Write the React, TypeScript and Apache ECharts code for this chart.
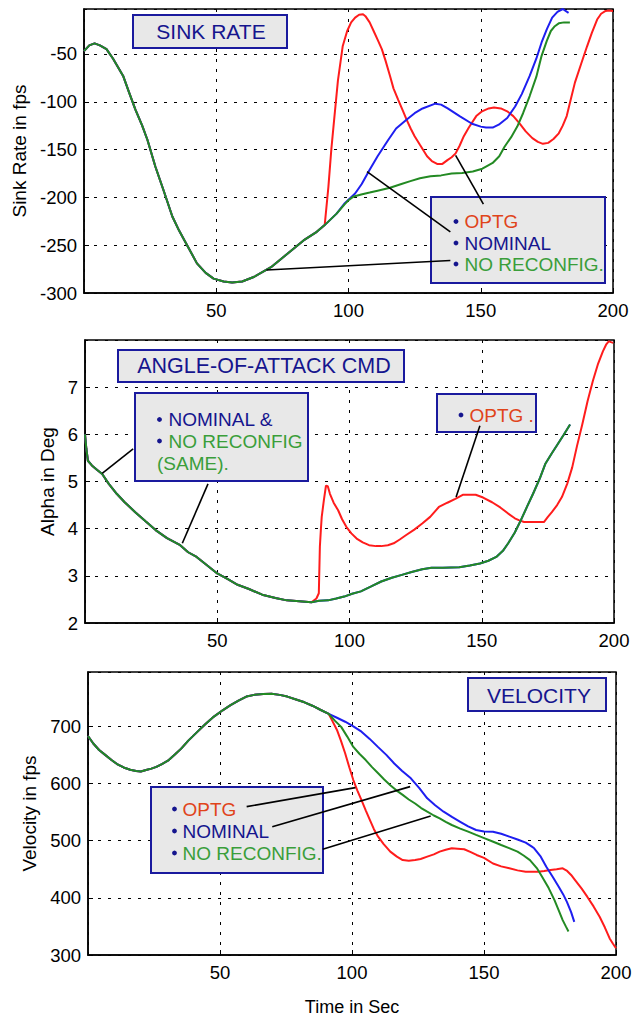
import React, { useEffect, useRef } from "react";
import * as echarts from "echarts";

const FONT = "'Liberation Sans', Arial, Helvetica, sans-serif";

// ---------- axis ticks ----------
const X_RANGE = [0, 200];
const X_STEP = 50;
const SINK_RANGE = [-300, -3];
const SINK_STEP = 50;
const ALPHA_RANGE = [2, 8];
const ALPHA_STEP = 1;
const VEL_RANGE = [300, 795];
const VEL_STEP = 100;

// ---------- SINK RATE (fps) ----------
const sinkBase = [
  [0, -47], [2, -41], [4, -39], [6, -41], [8.5, -45], [11, -55], [14.8, -73], [17, -90],
  [19.4, -108], [22, -125], [24, -140], [27, -168], [30, -192], [33.4, -220], [36, -235],
  [38, -245], [42.7, -269], [46, -279], [49, -285], [52.8, -288], [56, -289], [59.8, -288],
  [64.4, -283], [70.7, -273], [76.9, -259], [83, -245], [88, -236], [91, -229],
];
const sinkNominalTail = [
  [95.5, -217], [98.6, -206], [102.5, -196], [105, -186], [108, -171], [111, -157],
  [115, -140], [118, -128], [121.8, -119], [125, -112], [128, -107], [132.8, -102],
  [135, -103], [137.5, -107], [142, -115], [146.7, -123], [150, -126], [152, -127],
  [154.5, -127], [156.8, -124], [160, -117], [163, -105], [165.5, -92], [168.5, -73],
  [171, -55], [173, -38], [175, -24], [177, -12], [179, -6], [181, -3], [183.2, -7],
];
const sinkNoReconfigTail = [
  [95.5, -217], [98.6, -207], [100, -203], [102, -199], [104.8, -197], [108, -195],
  [111, -193], [115.7, -190], [120, -186], [123.4, -183], [127, -180], [131, -178],
  [135, -177], [139, -175], [143, -174.5], [147, -173], [150.6, -170], [152.5, -167],
  [154.5, -164], [157, -157], [159, -147], [161.5, -137], [163.8, -126], [166, -112],
  [168.5, -94], [171, -74], [173, -52], [175, -36], [176.5, -26], [178, -21],
  [179.5, -18], [181.5, -17], [183.7, -17],
];
const sinkOptgTail = [
  [92.4, -189], [93.5, -150], [94.7, -115], [96, -78], [97.8, -42], [99.5, -26],
  [101, -17], [102.5, -12], [104, -9], [105.5, -8.5], [106.4, -10.5], [108, -17],
  [109.5, -26], [111, -35], [112.6, -45], [114, -57], [115.7, -73], [117, -86],
  [118.8, -98], [120.5, -109], [122, -119], [123.5, -128], [125, -136], [127, -145],
  [129.7, -157], [131.5, -162], [133.5, -165], [135.5, -165], [137.4, -161],
  [139, -158], [140.5, -154], [142, -146], [143.6, -136], [145.5, -127], [148.3, -115],
  [150.5, -110], [153, -107], [155, -106], [157.6, -107], [160, -110], [162.3, -115],
  [164.5, -122], [167, -131], [169.5, -138], [171.6, -142], [173.5, -144],
  [175.5, -143], [177.5, -139], [179.5, -133], [181, -125], [182.5, -115], [184, -98],
  [185.6, -80], [188, -60], [190.2, -42], [192, -28], [194, -14], [195.5, -8],
  [197.2, -5], [198.5, -4.5], [200, -5],
];
const sinkLeaderOptg = [[151, -207], [140.5, -156]];
const sinkLeaderNominal = [[138.5, -236], [107, -173]];
const sinkLeaderNoReconfig = [[138.5, -266], [69, -276]];

// ---------- ANGLE OF ATTACK (deg) ----------
const alphaBase = [
  [0, 6.0], [0.5, 5.7], [1.1, 5.44], [2.6, 5.34], [4.5, 5.25], [6.5, 5.16], [9, 4.95],
  [12, 4.74], [15, 4.56], [19, 4.35], [23, 4.15], [26.7, 3.97], [31, 3.8], [36, 3.65],
  [39, 3.5], [42.2, 3.4], [46, 3.23], [50, 3.05], [54, 2.93], [57.7, 2.81], [62, 2.72],
  [67, 2.6], [72, 2.53], [76.3, 2.48], [81, 2.46], [85.6, 2.44],
];
const alphaSameTail = [
  [88.5, 2.47], [91.9, 2.48], [95, 2.52], [98, 2.56], [101, 2.62], [104.3, 2.67],
  [108, 2.77], [112, 2.88], [116, 2.96], [119.8, 3.02], [123.5, 3.08], [127.5, 3.14],
  [131, 3.17], [135.3, 3.17], [141.5, 3.18], [145.5, 3.22], [149.3, 3.26],
  [152.5, 3.32], [155.5, 3.4], [158, 3.53], [160, 3.69], [162.5, 3.92], [164.8, 4.18],
  [167, 4.45], [169.4, 4.74], [172, 5.07], [174, 5.37], [176.5, 5.6], [178.7, 5.79],
  [181, 5.99], [183.4, 6.21],
];
const alphaOptgTail = [
  [87.5, 2.52], [88.4, 2.63], [88.8, 3.62], [89.2, 4.0], [89.5, 4.25], [90.3, 4.6],
  [91.1, 4.91], [91.8, 4.9], [92.6, 4.74], [94, 4.55], [95.7, 4.39], [97.2, 4.2],
  [98.8, 4.04], [100.7, 3.9], [102.7, 3.79], [105, 3.71], [107.4, 3.65], [110, 3.63],
  [112, 3.63], [114.5, 3.65], [116.7, 3.69], [119, 3.77], [121.3, 3.86], [124.5, 3.98],
  [127.5, 4.11], [130.5, 4.25], [133.8, 4.46], [137, 4.55], [140, 4.63], [143, 4.72],
  [147.7, 4.72], [150.5, 4.66], [153.9, 4.56], [157, 4.45], [160, 4.32], [162.5, 4.22],
  [164, 4.18], [166, 4.14], [168, 4.14], [170.5, 4.14], [173.5, 4.14], [175, 4.25],
  [176.5, 4.35], [178.5, 4.5], [180.3, 4.67], [182.3, 4.95], [184.2, 5.3], [186, 5.75],
  [188, 6.21], [190, 6.7], [192, 7.13], [194, 7.5], [195.8, 7.76], [197, 7.9],
  [198, 7.97], [199.7, 7.94],
];
const alphaLeaderSame1 = [[18.2, 5.69], [6.5, 5.17]];
const alphaLeaderSame2 = [[46.5, 4.95], [36.8, 3.69]];
const alphaLeaderOptg = [[149.3, 6.18], [140.3, 4.67]];

// ---------- VELOCITY (fps) ----------
const velBase = [
  [0, 683], [2, 670], [4.2, 658.6], [6.5, 650], [8.9, 641], [11, 634], [13.5, 628],
  [16, 624], [18.2, 622], [20, 621], [22, 623.6], [24, 626], [25.9, 629], [28, 634],
  [30.6, 641], [33, 651], [35.3, 661], [38, 675], [41.5, 690.7], [44.5, 704],
  [47.7, 717], [51, 728], [54, 737], [57, 745], [60, 752], [63, 755], [66.4, 756.6],
  [69.5, 757], [72.6, 755], [75.5, 752], [78.8, 747], [82, 742], [85, 736], [88, 729],
  [91.2, 721.6],
];
const velNominalTail = [
  [94.3, 715], [97.4, 708], [100.5, 700], [103.6, 690.7], [106.7, 678], [109.8, 664],
  [113, 650], [116, 635], [119, 622], [122.3, 609], [125.5, 592], [128.5, 574],
  [131.5, 562], [134.7, 550.7], [138, 541], [141, 533], [144, 525], [147, 518.7],
  [150, 516], [153.4, 515.7], [156.5, 512], [159.6, 507], [162.7, 502], [165.8, 496.5],
  [168, 490], [169, 486.6], [171.5, 472], [173.6, 454.5], [176, 437], [178.3, 419.5],
  [180, 406], [181.4, 393], [183, 375], [184.2, 358],
];
const velNoReconfigTail = [
  [93.5, 710], [95.9, 699], [98.2, 682], [100.5, 664], [102.8, 652], [105.2, 641],
  [107.5, 629], [109.9, 617.8], [112.2, 607], [114.5, 597], [116.8, 588], [119.2, 580],
  [121.5, 572], [123.9, 565], [126.2, 557], [128.5, 550.7], [131, 544], [133.2, 539],
  [135.5, 533], [137.8, 527.4], [141, 521], [144, 515.7], [147, 510], [150.3, 504],
  [153.5, 498], [156.5, 492.4], [159.5, 487], [162.7, 480.8], [165, 474], [167.4, 466],
  [170, 452], [172, 437], [174.5, 417], [176.7, 396], [178.3, 378], [179.8, 361],
  [181, 350], [182, 341],
];
const velOptgTail = [
  [92.5, 710], [94.3, 693.6], [95.8, 675], [97.4, 652.8], [99, 628], [100.5, 606],
  [102, 588], [103.6, 571], [105.2, 553], [106.8, 536], [108.3, 520], [109.9, 507],
  [112, 494], [114.5, 480.8], [117, 472], [119.2, 466], [121.5, 465], [123.9, 466],
  [126, 468], [128.5, 472], [131, 476], [133.2, 480.8], [135.5, 484], [137.8, 486.6],
  [140, 486], [142.5, 485], [145, 480], [147.2, 475], [150, 470], [153.4, 460],
  [156.5, 455], [159.6, 451.6], [162.7, 448], [165.8, 445.8], [168, 445.8],
  [170.5, 445.8], [172.8, 447], [175.2, 448.7], [177.5, 450], [179.8, 451.6],
  [181.5, 447], [183, 440], [184.5, 431], [187, 416], [189.1, 402], [191.5, 385],
  [193.8, 367], [195.8, 348], [197.6, 329], [198.8, 320], [200, 311.7],
];
const velLeaderOptg = [[60.1, 559.5], [101.3, 592.7]];
const velLeaderNominal = [[69.8, 524.5], [122, 594.5]];
const velLeaderNoReconfig = [[88.9, 484.8], [129.8, 543]];

// ---------- colours ----------
const RED = "#ff1c1c";
const BLUE = "#1e1ef0";
const GREEN = "#238a23";
const NAVY = "#15158e";
const TXT_RED = "#e0441a";
const TXT_GREEN = "#3a9e3a";
const BOX_FILL = "#e8e8e8";
const BOX_EDGE = "#1a1a9e";

const TICK_FS = 18.5;
const NAME_FS = 19;
const LEG_FS = 19;

function lineSeries(idx: number, data: number[][], color: string, z = 5) {
  return {
    type: "line",
    xAxisIndex: idx,
    yAxisIndex: idx,
    data,
    symbol: "none",
    smooth: false,
    z,
    silent: true,
    lineStyle: { color, width: 2 },
  };
}
function leader(idx: number, data: number[][]) {
  return {
    type: "line",
    xAxisIndex: idx,
    yAxisIndex: idx,
    data,
    symbol: "none",
    z: 20,
    silent: true,
    lineStyle: { color: "#000", width: 1.6 },
  };
}

function box(x: number, y: number, w: number, h: number) {
  return {
    type: "rect",
    z: 10,
    shape: { x, y, width: w, height: h },
    style: { fill: BOX_FILL, stroke: BOX_EDGE, lineWidth: 2 },
  };
}
function txt(x: number, y: number, text: string, fill: string, size: number, align = "left") {
  return {
    type: "text",
    z: 12,
    x,
    y,
    style: {
      text,
      fill,
      fontSize: size,
      fontFamily: FONT,
      align,
      verticalAlign: "middle",
    },
  };
}
function dot(x: number, y: number) {
  return { type: "circle", z: 12, shape: { cx: x, cy: y, r: 2.4 }, style: { fill: NAVY } };
}

const GRIDS = [
  { left: 84, top: 9, width: 529, height: 284 },
  { left: 85, top: 340, width: 529, height: 283 },
  { left: 88, top: 672, width: 528, height: 283 },
];

function xAxis(idx: number, name?: string) {
  return {
    type: "value",
    gridIndex: idx,
    min: X_RANGE[0],
    max: X_RANGE[1],
    interval: X_STEP,
    name: name || "",
    nameLocation: "middle",
    nameGap: 43,
    nameTextStyle: { color: "#000", fontSize: 18, fontFamily: FONT },
    axisLine: { show: true, lineStyle: { color: "#000", width: 1.5 } },
    axisTick: { show: true, inside: true, length: 5, lineStyle: { color: "#000" } },
    axisLabel: { showMinLabel: false, color: "#000", fontSize: TICK_FS, fontFamily: FONT, margin: 8 },
    splitLine: { show: true, lineStyle: { color: "#000", width: 1, type: [3, 7] } },
  };
}
function yAxis(idx: number, range: number[], step: number, name: string, gap: number) {
  return {
    type: "value",
    gridIndex: idx,
    min: range[0],
    max: range[1],
    interval: step,
    name,
    nameLocation: "middle",
    nameGap: gap,
    nameTextStyle: { color: "#000", fontSize: NAME_FS, fontFamily: FONT },
    axisLine: { show: true, lineStyle: { color: "#000", width: 1.5 } },
    axisTick: { show: true, inside: true, length: 5, lineStyle: { color: "#000" } },
    axisLabel: { showMaxLabel: false, color: "#000", fontSize: TICK_FS, fontFamily: FONT, margin: 7 },
    splitLine: { show: true, lineStyle: { color: "#000", width: 1, type: [3, 7] } },
  };
}

export default function App() {
  const ref = useRef<HTMLDivElement>(null);
  useEffect(() => {
    if (!ref.current) return;
    const chart = echarts.init(ref.current, undefined, { renderer: "svg" });
    const option = {
      animation: false,
      backgroundColor: "#fff",
      grid: GRIDS.map((g) => ({ ...g, show: true, borderColor: "#000", borderWidth: 1.5, backgroundColor: "transparent" })),
      xAxis: [xAxis(0), xAxis(1), xAxis(2, "Time in Sec")],
      yAxis: [
        yAxis(0, SINK_RANGE, SINK_STEP, "Sink Rate in fps", 50),
        yAxis(1, ALPHA_RANGE, ALPHA_STEP, "Alpha in Deg", 24),
        yAxis(2, VEL_RANGE, VEL_STEP, "Velocity in fps", 46),
      ],
      series: [
        lineSeries(0, [...sinkBase, ...sinkOptgTail], RED, 4),
        lineSeries(0, [...sinkBase, ...sinkNominalTail], BLUE, 5),
        lineSeries(0, [...sinkBase, ...sinkNoReconfigTail], GREEN, 6),
        leader(0, sinkLeaderOptg),
        leader(0, sinkLeaderNominal),
        leader(0, sinkLeaderNoReconfig),

        lineSeries(1, [...alphaBase, ...alphaOptgTail], RED, 4),
        lineSeries(1, [...alphaBase, ...alphaSameTail], BLUE, 5),
        lineSeries(1, [...alphaBase, ...alphaSameTail], GREEN, 6),
        leader(1, alphaLeaderSame1),
        leader(1, alphaLeaderSame2),
        leader(1, alphaLeaderOptg),

        lineSeries(2, [...velBase, ...velOptgTail], RED, 4),
        lineSeries(2, [...velBase, ...velNominalTail], BLUE, 5),
        lineSeries(2, [...velBase, ...velNoReconfigTail], GREEN, 6),
        leader(2, velLeaderOptg),
        leader(2, velLeaderNominal),
        leader(2, velLeaderNoReconfig),
      ],
      graphic: [
        // panel 1
        box(133, 15, 154, 33),
        txt(211, 31.5, "SINK RATE", NAVY, 21, "center"),
        box(431, 197, 174, 86),
        dot(456, 221.5), txt(464.5, 221.5, "OPTG", TXT_RED, LEG_FS),
        dot(456, 243), txt(464.5, 243, "NOMINAL", NAVY, LEG_FS),
        dot(456, 264), txt(464.5, 264, "NO RECONFIG.", TXT_GREEN, LEG_FS),
        // panel 2
        box(118, 350, 286, 32),
        txt(264, 366, "ANGLE-OF-ATTACK CMD", NAVY, 21.5, "center"),
        box(135, 393, 173, 88),
        dot(159.5, 419.5), txt(168.5, 419.5, "NOMINAL &", NAVY, LEG_FS),
        dot(159.5, 441), txt(168.5, 441, "NO RECONFIG", TXT_GREEN, LEG_FS),
        txt(157, 463, "(SAME).", TXT_GREEN, LEG_FS),
        box(437, 394, 99, 38),
        dot(461, 415), txt(469.5, 415, "OPTG .", TXT_RED, LEG_FS),
        // panel 3
        box(468, 678, 138, 33),
        txt(539, 695, "VELOCITY", NAVY, 21, "center"),
        box(151, 787, 172, 86),
        dot(174.5, 809), txt(182.5, 809, "OPTG", TXT_RED, LEG_FS),
        dot(174.5, 831), txt(182.5, 831, "NOMINAL", NAVY, LEG_FS),
        dot(174.5, 853), txt(182.5, 853, "NO RECONFIG.", TXT_GREEN, LEG_FS),
      ],
    };
    chart.setOption(option as any);
    return () => chart.dispose();
  }, []);
  return (
    <div
      ref={ref}
      style={{ position: "absolute", left: 0, top: 0, width: 644, height: 1017, background: "#fff" }}
    />
  );
}
